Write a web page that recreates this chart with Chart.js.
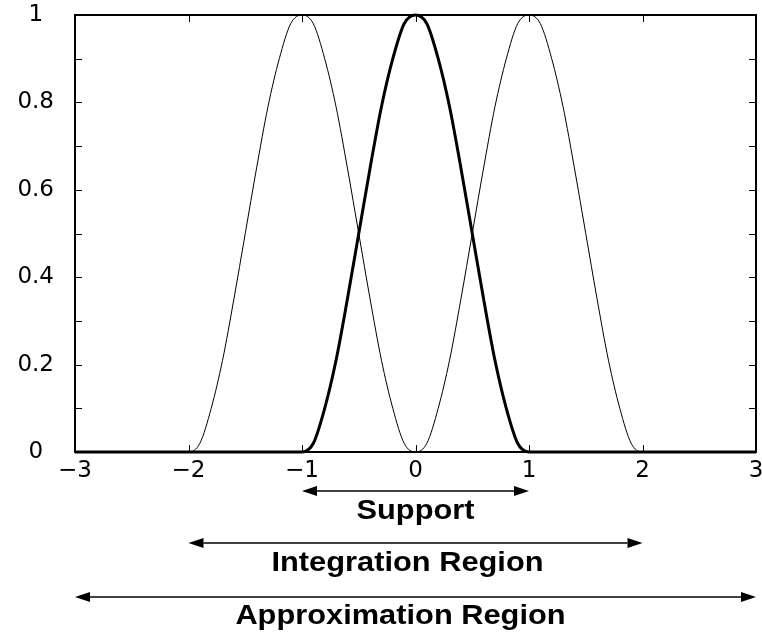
<!DOCTYPE html>
<html>
<head>
<meta charset="utf-8">
<script src="https://cdn.jsdelivr.net/npm/chart.js@4/dist/chart.umd.min.js"></script>
<style>
  html, body { margin: 0; padding: 0; background: #fff; }
  #wrap { width: 762px; height: 637px; position: relative; }
</style>
</head>
<body>
<div id="wrap"><canvas id="basisChart"></canvas></div>
<script>
// x grid (step 0.1 from -3 to 3)
const xValues = [
  -3.0, -2.9, -2.8, -2.7, -2.6, -2.5, -2.4, -2.3, -2.2, -2.1,
  -2.0, -1.9, -1.8, -1.7, -1.6, -1.5, -1.4, -1.3, -1.2, -1.1,
  -1.0, -0.9, -0.8, -0.7, -0.6, -0.5, -0.4, -0.3, -0.2, -0.1,
  0.0, 0.1, 0.2, 0.3, 0.4, 0.5, 0.6, 0.7, 0.8, 0.9,
  1.0, 1.1, 1.2, 1.3, 1.4, 1.5, 1.6, 1.7, 1.8, 1.9,
  2.0, 2.1, 2.2, 2.3, 2.4, 2.5, 2.6, 2.7, 2.8, 2.9, 3.0
];

// bump centred at -1
const leftBump = [
  0, 0, 0, 0, 0, 0, 0, 0, 0, 0,
  0, 0.02, 0.10, 0.21, 0.35, 0.50, 0.65, 0.79, 0.90, 0.98,
  1, 0.98, 0.90, 0.79, 0.65, 0.50, 0.35, 0.21, 0.10, 0.02,
  0, 0, 0, 0, 0, 0, 0, 0, 0, 0,
  0, 0, 0, 0, 0, 0, 0, 0, 0, 0,
  0, 0, 0, 0, 0, 0, 0, 0, 0, 0, 0
];

// bump centred at 0 (thick)
const midBump = [
  0, 0, 0, 0, 0, 0, 0, 0, 0, 0,
  0, 0, 0, 0, 0, 0, 0, 0, 0, 0,
  0, 0.02, 0.10, 0.21, 0.35, 0.50, 0.65, 0.79, 0.90, 0.98,
  1, 0.98, 0.90, 0.79, 0.65, 0.50, 0.35, 0.21, 0.10, 0.02,
  0, 0, 0, 0, 0, 0, 0, 0, 0, 0,
  0, 0, 0, 0, 0, 0, 0, 0, 0, 0, 0
];

// bump centred at 1
const rightBump = [
  0, 0, 0, 0, 0, 0, 0, 0, 0, 0,
  0, 0, 0, 0, 0, 0, 0, 0, 0, 0,
  0, 0, 0, 0, 0, 0, 0, 0, 0, 0,
  0, 0.02, 0.10, 0.21, 0.35, 0.50, 0.65, 0.79, 0.90, 0.98,
  1, 0.98, 0.90, 0.79, 0.65, 0.50, 0.35, 0.21, 0.10, 0.02,
  0, 0, 0, 0, 0, 0, 0, 0, 0, 0, 0
];

// arrows under the axis
const arrowFrom = [-1, -2, -3];
const arrowTo = [1, 2, 3];
const arrowLabels = ['Support', 'Integration Region', 'Approximation Region'];

const toPoints = ys => xValues.map((x, i) => ({ x: x, y: ys[i] }));

// box, inward ticks on all four sides
const framePlugin = {
  id: 'frame',
  afterDatasetsDraw(chart) {
    const { ctx, chartArea: a, scales: { x, y } } = chart;
    ctx.save();
    ctx.strokeStyle = '#000';
    ctx.lineWidth = 1;
    ctx.beginPath();
    x.ticks.forEach(t => {
      const px = Math.round(x.getPixelForValue(t.value)) + 0.5;
      ctx.moveTo(px, a.bottom); ctx.lineTo(px, a.bottom - 7);
      ctx.moveTo(px, a.top); ctx.lineTo(px, a.top + 7);
    });
    y.ticks.forEach(t => {
      const py = Math.round(y.getPixelForValue(t.value)) + 0.5;
      ctx.moveTo(a.left, py); ctx.lineTo(a.left + 7, py);
      ctx.moveTo(a.right, py); ctx.lineTo(a.right - 7, py);
    });
    ctx.stroke();
    ctx.lineWidth = 2;
    ctx.strokeRect(a.left, a.top, a.right - a.left, a.bottom - a.top);
    ctx.restore();
  }
};

const arrowPlugin = {
  id: 'arrows',
  afterDraw(chart) {
    const { ctx, scales: { x } } = chart;
    const lineY = [491, 543, 597];
    const textY = [519, 571, 624];
    const textShift = [0, -8, -15];
    ctx.save();
    ctx.strokeStyle = '#000';
    ctx.fillStyle = '#000';
    arrowFrom.forEach((from, i) => {
      const x0 = x.getPixelForValue(from);
      const x1 = x.getPixelForValue(arrowTo[i]);
      const yy = lineY[i];
      const head = 15, half = 5;
      ctx.lineWidth = 1.5;
      ctx.beginPath();
      ctx.moveTo(x0 + head, yy);
      ctx.lineTo(x1 - head, yy);
      ctx.stroke();
      ctx.beginPath();
      ctx.moveTo(x0, yy); ctx.lineTo(x0 + head, yy - half); ctx.lineTo(x0 + head, yy + half);
      ctx.closePath();
      ctx.fill();
      ctx.beginPath();
      ctx.moveTo(x1, yy); ctx.lineTo(x1 - head, yy - half); ctx.lineTo(x1 - head, yy + half);
      ctx.closePath();
      ctx.fill();

      // label, slightly widened like the original
      const cx = (x0 + x1) / 2 + textShift[i];
      ctx.save();
      ctx.translate(cx, textY[i]);
      ctx.scale(1.1, 1);
      ctx.font = 'bold 28px "Liberation Sans", Arial, sans-serif';
      ctx.textAlign = 'center';
      ctx.textBaseline = 'alphabetic';
      ctx.fillText(arrowLabels[i], 0, 0);
      ctx.restore();
    });
    ctx.restore();
  }
};

const tickFont = { family: '"DejaVu Sans", sans-serif', size: 23 };

new Chart(document.getElementById('basisChart'), {
  type: 'line',
  data: {
    datasets: [
      { data: toPoints(leftBump), borderColor: '#000', borderWidth: 1, clip: false },
      { data: toPoints(rightBump), borderColor: '#000', borderWidth: 1, clip: false },
      { data: toPoints(midBump), borderColor: '#000', borderWidth: 3, clip: false }
    ]
  },
  options: {
    responsive: true,
    maintainAspectRatio: false,
    animation: false,
    layout: { padding: { top: 15, right: 6, left: 0, bottom: 0 } },
    elements: {
      point: { radius: 0 },
      line: { cubicInterpolationMode: 'monotone', borderJoinStyle: 'round' }
    },
    plugins: { legend: { display: false }, tooltip: { enabled: false } },
    scales: {
      x: {
        type: 'linear',
        min: -3,
        max: 3,
        grid: { display: false, drawTicks: false },
        border: { display: false },
        ticks: {
          stepSize: 1,
          padding: 5,
          color: '#000',
          font: tickFont,
          maxRotation: 0,
          callback: v => (v < 0 ? '\u2212' + Math.abs(v) : String(v))
        },
        afterFit: scale => {
          scale.height = 185;
          scale.paddingLeft = 0;
          scale.paddingRight = 0;
        }
      },
      y: {
        min: 0,
        max: 1,
        grid: { display: false, drawTicks: false },
        border: { display: false },
        ticks: {
          stepSize: 0.1,
          padding: 21,
          crossAlign: 'center',
          color: '#000',
          font: tickFont,
          callback: v => (Math.round(v * 10) % 2 === 0 ? String(Math.round(v * 10) / 10) : '')
        },
        afterFit: scale => {
          scale.width = 75;
          scale.paddingTop = 0;
          scale.paddingBottom = 0;
        }
      }
    }
  },
  plugins: [framePlugin, arrowPlugin]
});
</script>
</body>
</html>
